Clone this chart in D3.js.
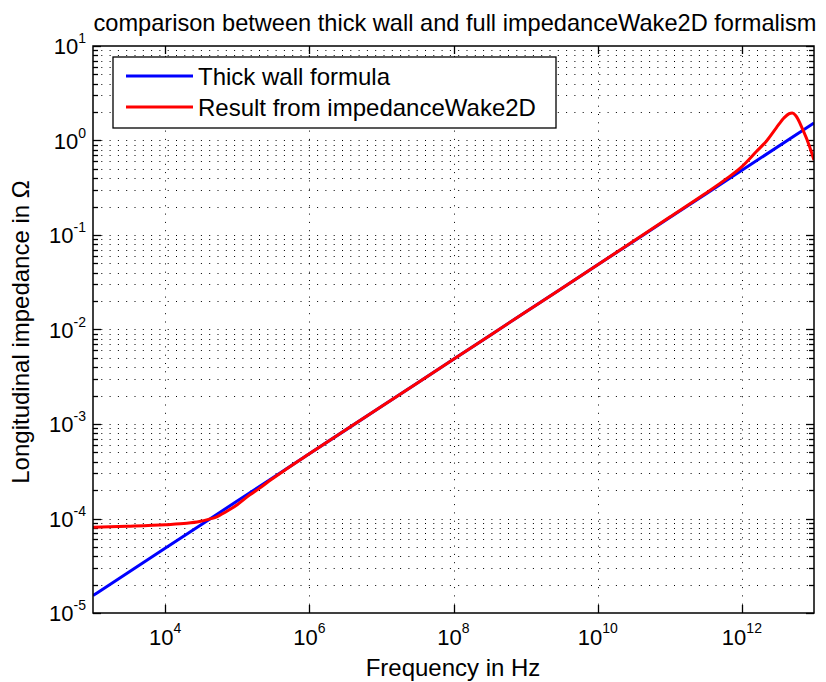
<!DOCTYPE html>
<html>
<head>
<meta charset="utf-8">
<script src="https://cdn.jsdelivr.net/npm/d3@7"></script>
<style>
  html, body { margin: 0; padding: 0; background: #fff; }
  svg { display: block; font-family: "Liberation Sans", Arial, Helvetica, sans-serif; }
</style>
</head>
<body>
<svg id="chart" width="826" height="682"></svg>
<script>
// ---- data ----
const titleText = "comparison between thick wall and full impedanceWake2D formalism";
const xLabelText = "Frequency in Hz";
const yLabelText = "Longitudinal impedance in Ω";
const seriesNames = ["Thick wall formula", "Result from impedanceWake2D"];
const seriesColors = ["#0000ff", "#ff0000"];

const xTickExps = [4, 6, 8, 10, 12];
const yTickExps = [-5, -4, -3, -2, -1, 0, 1];

const freqThick = [1e3, 1e4, 1e5, 1e6, 1e7, 1e8, 1e9, 1e10, 1e11, 1e12, 1e13];
const zThick = [1.53e-5, 4.84e-5, 1.53e-4, 4.84e-4, 1.53e-3, 4.84e-3, 1.53e-2, 4.84e-2, 0.153, 0.484, 1.53];

const freqIW2D = [1e3, 3e3, 1e4, 2e4, 3e4, 4e4, 5e4, 7e4, 1e5, 1.5e5, 2e5, 3e5, 5e5,
  1e6, 1e7, 1e8, 1e9, 1e10, 1e11, 3e11, 6e11, 1e12, 1.6e12, 2.2e12, 3e12, 3.8e12, 4.5e12, 5e12,
  5.6e12, 7e12, 8.7e12, 1e13];
const zIW2D = [8.1e-5, 8.3e-5, 8.6e-5, 8.9e-5, 9.3e-5, 9.8e-5, 1.03e-4, 1.18e-4, 1.4e-4, 1.78e-4, 2.07e-4, 2.6e-4, 3.4e-4,
  4.84e-4, 1.53e-3, 4.84e-3, 1.53e-2, 4.84e-2, 0.155, 0.27, 0.39, 0.53, 0.77, 0.99, 1.36, 1.72, 1.92, 1.95,
  1.83, 1.3, 0.86, 0.62];

// ---- layout ----
const svg = d3.select("#chart");
const L = 93, R = 814, T = 46, B = 613;

const x = d3.scaleLog().domain([1e3, 1e13]).range([L, R]);
const y = d3.scaleLog().domain([1e-5, 1e1]).range([B, T]);

// minor y values
const yMinor = [];
for (let k = -5; k < 1; k++) for (let m = 1; m <= 9; m++) yMinor.push(m * Math.pow(10, k));
yMinor.push(10);

// grid
const grid = svg.append("g").attr("stroke", "#000").attr("stroke-width", 1)
  .attr("stroke-dasharray", "1,7.3").attr("fill", "none");
grid.selectAll("line.h").data(yMinor.filter(v => v > 1e-5 && v < 10)).enter().append("line")
  .attr("x1", L).attr("x2", R)
  .attr("y1", d => Math.round(y(d)) + 0.5).attr("y2", d => Math.round(y(d)) + 0.5);
grid.selectAll("line.v").data(xTickExps).enter().append("line")
  .attr("y1", B).attr("y2", T)
  .attr("x1", d => Math.round(x(Math.pow(10, d))) + 0.5).attr("x2", d => Math.round(x(Math.pow(10, d))) + 0.5);

// ticks
const ticks = svg.append("g").attr("stroke", "#000").attr("stroke-width", 1.3);
yMinor.forEach(v => {
  const major = Math.abs(Math.log10(v) - Math.round(Math.log10(v))) < 1e-9;
  const len = major ? 8 : 5;
  const yy = Math.round(y(v)) + 0.5;
  ticks.append("line").attr("x1", L).attr("x2", L + len).attr("y1", yy).attr("y2", yy);
  ticks.append("line").attr("x1", R).attr("x2", R - len).attr("y1", yy).attr("y2", yy);
});
xTickExps.forEach(e => {
  const xx = Math.round(x(Math.pow(10, e))) + 0.5;
  ticks.append("line").attr("x1", xx).attr("x2", xx).attr("y1", B).attr("y2", B - 8);
  ticks.append("line").attr("x1", xx).attr("x2", xx).attr("y1", T).attr("y2", T + 8);
});

// lines
const line = d3.line().x(d => x(d[0])).y(d => y(d[1])).curve(d3.curveMonotoneX);
svg.append("clipPath").attr("id", "clip").append("rect")
  .attr("x", L).attr("y", T).attr("width", R - L).attr("height", B - T);
const plot = svg.append("g").attr("clip-path", "url(#clip)");
plot.append("path").datum(d3.zip(freqThick, zThick)).attr("d", line)
  .attr("fill", "none").attr("stroke", seriesColors[0]).attr("stroke-width", 3);
plot.append("path").datum(d3.zip(freqIW2D, zIW2D)).attr("d", line)
  .attr("fill", "none").attr("stroke", seriesColors[1]).attr("stroke-width", 3);

// axes box
svg.append("rect").attr("x", L).attr("y", T).attr("width", R - L).attr("height", B - T)
  .attr("fill", "none").attr("stroke", "#000").attr("stroke-width", 1.5);

// tick labels
const xl = svg.append("g").attr("fill", "#000");
xTickExps.forEach(e => {
  const t = xl.append("text").attr("x", x(Math.pow(10, e))).attr("y", 645)
    .attr("text-anchor", "middle").attr("font-size", 22);
  t.append("tspan").text("10");
  t.append("tspan").attr("dy", -12).attr("font-size", 14).text(String(e));
});
const yl = svg.append("g").attr("fill", "#000");
yTickExps.forEach(e => {
  const t = yl.append("text").attr("x", 86).attr("y", y(Math.pow(10, e)) + 8)
    .attr("text-anchor", "end").attr("font-size", 22);
  t.append("tspan").text("10");
  t.append("tspan").attr("dy", -11).attr("font-size", 14).text(String(e));
});

// title and labels
svg.append("text").attr("x", 455).attr("y", 31).attr("text-anchor", "middle")
  .attr("font-size", 23.6).text(titleText);
svg.append("text").attr("x", 453).attr("y", 676).attr("text-anchor", "middle")
  .attr("font-size", 24).text(xLabelText);
svg.append("text").attr("transform", "translate(29,332) rotate(-90)").attr("text-anchor", "middle")
  .attr("font-size", 24).text(yLabelText);

// legend
const lg = svg.append("g");
lg.append("rect").attr("x", 113).attr("y", 57).attr("width", 443).attr("height", 71)
  .attr("fill", "#fff").attr("stroke", "#000").attr("stroke-width", 1.3);
[76, 107].forEach((ly, i) => {
  lg.append("line").attr("x1", 126).attr("x2", 193).attr("y1", ly).attr("y2", ly)
    .attr("stroke", seriesColors[i]).attr("stroke-width", 3);
  lg.append("text").attr("x", 198).attr("y", ly + 9).attr("font-size", 24).text(seriesNames[i]);
});
</script>
</body>
</html>
